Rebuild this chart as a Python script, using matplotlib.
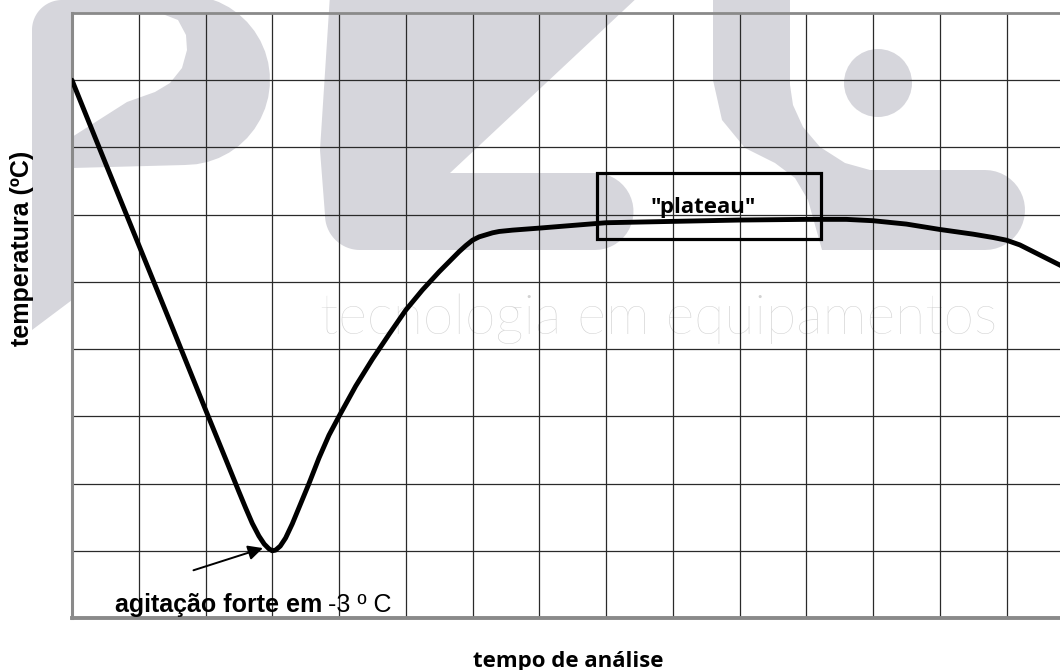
import numpy as np
import matplotlib.pyplot as plt
from matplotlib.patches import Rectangle, PathPatch, Circle
from matplotlib.path import Path
from matplotlib.transforms import Affine2D

# cooling curve (1 unit = 1 grid square, no scale printed)
tempo = [0.0, 0.5, 1.0, 1.5, 2.0, 2.3, 2.5, 2.6, 2.7, 2.8, 2.88, 2.95, 3.0,
         3.05, 3.12, 3.2, 3.3, 3.4, 3.55, 3.7, 3.85, 4.0, 4.25, 4.5, 4.75,
         5.0, 5.25, 5.5, 5.7, 5.8, 5.9, 6.0, 6.1, 6.2, 6.3, 6.4, 6.6, 7.0,
         7.5, 8.0, 9.0, 10.0, 11.0, 11.6, 12.0, 12.5, 13.0, 13.5, 13.8,
         14.0, 14.2, 14.4, 14.6, 14.8, 15.0]
temperatura = [8.00, 6.77, 5.55, 4.33, 3.10, 2.37, 1.88, 1.64, 1.41, 1.22,
               1.10, 1.03, 1.00, 1.01, 1.07, 1.19, 1.40, 1.64, 2.00, 2.38,
               2.72, 3.00, 3.45, 3.85, 4.22, 4.58, 4.88, 5.15, 5.35, 5.45,
               5.54, 5.62, 5.67, 5.70, 5.73, 5.75, 5.77, 5.80, 5.84, 5.88,
               5.90, 5.92, 5.93, 5.93, 5.91, 5.86, 5.78, 5.71, 5.66, 5.62,
               5.55, 5.45, 5.35, 5.25, 5.14]

min_point = (3.0, 1.0)
plateau_span = (7.86, 11.22)
plateau_band = (5.64, 6.62)

W, H = 1060, 670
fig = plt.figure(figsize=(W / 100, H / 100), dpi=100)
fig.patch.set_facecolor('white')

# watermark logo in the background (pixel coordinates, y downwards)
px = Affine2D().scale(1 / W, -1 / H).translate(0, 1) + fig.transFigure
wm = '#d6d6dc'


def arc(cx, cy, r, a0, a1, n=24):
    a = np.radians(np.linspace(a0, a1, n))
    return list(zip(cx + r * np.cos(a), cy + r * np.sin(a)))


def shape(*rings):
    verts, codes = [], []
    for ring in rings:
        verts += ring + [ring[0]]
        codes += [Path.MOVETO] + [Path.LINETO] * (len(ring) - 1) + [Path.CLOSEPOLY]
    return PathPatch(Path(verts, codes), facecolor=wm, edgecolor='none',
                     transform=px, zorder=-2)


p_outer = ([(32, 330), (32, 30)] + arc(62, 30, 30, 180, 270)
           + arc(185, 80, 85, 270, 450) + [(72, 168), (72, 300)])
p_hole = [(72, 13), (72, 137), (127, 102), (155, 92), (170, 83), (182, 68),
          (187, 50), (186, 35), (178, 20), (160, 13)]
z_ring = ([(330, -5), (640, -5), (450, 173), (595, 173)]
          + arc(595, 211.5, 38.5, -90, 90) + [(360, 250)]
          + arc(360, 215, 35, 90, 180) + [(320, 150)])
l_ring = ([(713, -5), (713, 80), (722, 120), (745, 148), (775, 163),
           (795, 178), (808, 200), (815, 225), (822, 250), (985, 250)]
          + arc(985, 210, 40, 90, -90)
          + [(870, 170), (845, 163), (820, 147), (803, 127), (793, 105),
             (790, 85), (790, -5)])
for patch in (shape(p_outer, p_hole), shape(z_ring), shape(l_ring)):
    fig.add_artist(patch)
fig.add_artist(Circle((878, 83), 34, facecolor=wm, edgecolor='none',
                      transform=px, zorder=-2))
fig.text(320 / W, 1 - 334 / H, 'tecnologia em equipamentos', fontsize=40,
         family='Lato', weight='light', color='#d2d2d2', va='baseline',
         zorder=-2)

# chart
ax = fig.add_axes([72 / W, 52 / H, 16 * 66.75 / W, 605 / H])
ax.set_facecolor('none')
ax.set_xlim(0, 16)
ax.set_ylim(0, 9)
ax.set_xticks(np.arange(1, 16))
ax.set_yticks(np.arange(1, 9))
ax.tick_params(length=0, labelbottom=False, labelleft=False)
ax.grid(True, color='#2a2a2a', lw=0.9)
ax.set_axisbelow(True)
for side, lw in (('left', 2.2), ('top', 2.0), ('bottom', 2.8), ('right', 2.0)):
    ax.spines[side].set_color('#8a8a8a')
    ax.spines[side].set_linewidth(lw)

ax.plot(tempo, temperatura, color='black', lw=3.5, solid_capstyle='round',
        solid_joinstyle='round', zorder=3)

ax.add_patch(Rectangle((plateau_span[0], plateau_band[0]),
                       plateau_span[1] - plateau_span[0],
                       plateau_band[1] - plateau_band[0],
                       fill=False, edgecolor='black', lw=2.3, zorder=4))
ax.text(9.45, 6.03, '"plateau"', fontsize=16, family='Open Sans',
        weight='bold', ha='center', va='baseline', zorder=5)

ax.annotate('', xy=(min_point[0] - 0.14, min_point[1] + 0.04),
            xytext=(1.82, 0.71),
            arrowprops=dict(arrowstyle='-|>', color='black', lw=1.4,
                            mutation_scale=22, shrinkA=0, shrinkB=0))
t = ax.text(0.64, 0.09, 'agitação forte em', fontsize=18,
            family='Liberation Sans', weight='bold', va='baseline')
ax.annotate('-3 º C', xy=(1, 0.09), xycoords=(t, 'data'), xytext=(4, 0),
            textcoords='offset points', fontsize=18, family='Liberation Sans',
            va='baseline')

fig.text(22 / W, 1 - 248 / H, 'temperatura (ºC)', rotation=90, fontsize=18,
         family='Liberation Sans', weight='bold', ha='center', va='center')
fig.text(568 / W, 1 - 661 / H, 'tempo de análise', fontsize=16,
         family='Open Sans', weight='bold', ha='center', va='center')

fig.savefig('out.png', dpi=100)
